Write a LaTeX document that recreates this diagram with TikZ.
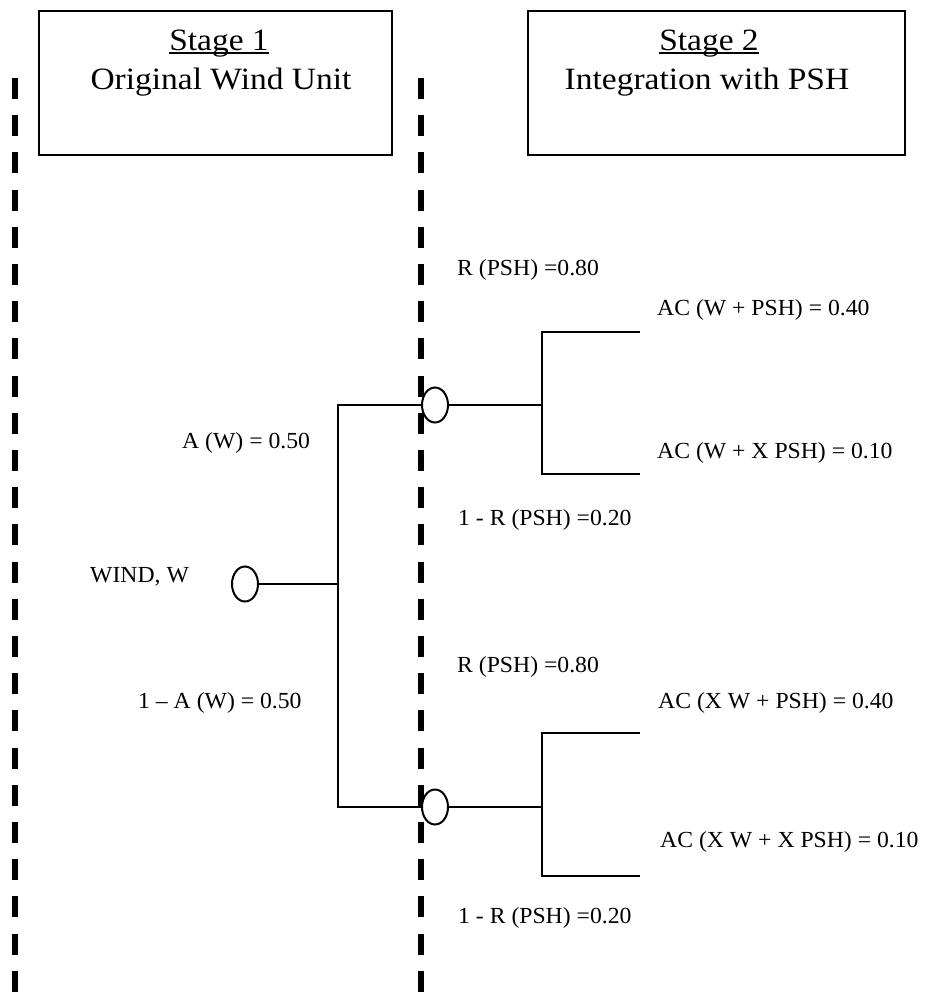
\documentclass[tikz,border=0pt]{standalone}
\usepackage{fontspec}
\setmainfont[FakeStretch=1.03]{Liberation Serif}
\newfontfamily\headfont[FakeStretch=1.08]{Liberation Serif}
\usetikzlibrary{shapes.geometric}
\begin{document}
\begin{tikzpicture}[x=1pt,y=-1pt,
  frame/.style={draw, line width=1.8pt, inner sep=0pt},
  head/.style={inner sep=0pt, anchor=base, font=\headfont\fontsize{31}{37}\selectfont},
  lbl/.style={inner sep=0pt, anchor=west, font=\fontsize{23}{28}\selectfont},
  chance/.style={ellipse, draw, fill=white, line width=2pt,
    minimum width=26pt, minimum height=35pt, inner sep=0pt},
  branch/.style={line width=2pt},
  divider/.style={line width=5.5pt, dash pattern=on 21pt off 16.2pt}]
\useasboundingbox (0,0) rectangle (925,993);
\fill[white] (0,0) rectangle (925,993);

% stage headers
\node[frame, minimum width=353pt, minimum height=144pt] (box1) at (215.5,83) {};
\node[frame, minimum width=377pt, minimum height=144pt] (box2) at (716.5,83) {};
\node[head] (s1) at (219,50) {Stage 1};
\node[head] (t1) at (221,89) {Original Wind Unit};
\node[head] (s2) at (709,50) {Stage 2};
\node[head] (t2) at (707,89) {Integration with PSH};
\draw[line width=1.3pt] ([yshift=-3pt]s1.base west) -- ([yshift=-3pt]s1.base east);
\draw[line width=1.3pt] ([yshift=-3pt]s2.base west) -- ([yshift=-3pt]s2.base east);

% stage boundaries
\coordinate (d1t) at (15,78);  \coordinate (d1b) at (15,993);
\coordinate (d2t) at (421,78); \coordinate (d2b) at (421,993);
\draw[divider] (d1t) -- (d1b);
\draw[divider] (d2t) -- (d2b);

% chance nodes
\node[chance] (w)  at (245,584) {};
\node[chance] (c1) at (435,405) {};
\node[chance] (c2) at (435,807) {};

% junctions and leaf ends
\coordinate (j0) at (338,584);
\coordinate (j1) at (542,405);
\coordinate (j2) at (542,807);
\coordinate (l1a) at (640,332); \coordinate (l1b) at (640,474);
\coordinate (l2a) at (640,733); \coordinate (l2b) at (640,876);

% branches
\draw[branch] (w.east) -- (j0);
\draw[branch] (c1.west) -| (j0) |- (c2.west);
\draw[branch] (c1.east) -- (j1);
\draw[branch] (l1a) -| (j1) |- (l1b);
\draw[branch] (c2.east) -- (j2);
\draw[branch] (l2a) -| (j2) |- (l2b);

% labels
\node[lbl] (lw)   at (90,577)  {WIND, W};
\node[lbl] (la)   at (182,443) {A (W) = 0.50};
\node[lbl] (lna)  at (138,703) {1 – A (W) = 0.50};
\node[lbl] (lr1)  at (457,270) {R (PSH) =0.80};
\node[lbl] (lnr1) at (458,520) {1 - R (PSH) =0.20};
\node[lbl] (lr2)  at (457,667) {R (PSH) =0.80};
\node[lbl] (lnr2) at (458,918) {1 - R (PSH) =0.20};
\node[lbl] (a1)   at (657,310) {AC (W + PSH) = 0.40};
\node[lbl] (a2)   at (657,453) {AC (W + X PSH) = 0.10};
\node[lbl] (a3)   at (658,703) {AC (X W + PSH) = 0.40};
\node[lbl] (a4)   at (660,842) {AC (X W + X PSH) = 0.10};
\end{tikzpicture}
\end{document}
